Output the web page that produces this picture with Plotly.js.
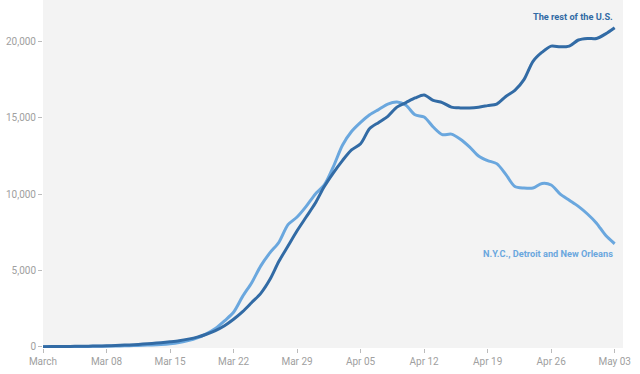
<!DOCTYPE html>
<html>
<head>
<meta charset="utf-8">
<script src="https://cdn.plot.ly/plotly-3.0.1.min.js"></script>
<style>html,body{margin:0;padding:0;background:#fff;}#chart{width:640px;height:374px;}</style>
</head>
<body>
<div id="chart"></div>
<script>
// Daily dates, Mar 1 – May 3, 2020
const startDate = "2020-03-01";
const restOfUS = [10,15,20,25,30,40,50,65,85,110,140,175,220,270,330,400,500,630,820,1060,1380,1800,2300,2900,3500,4400,5600,6600,7600,8500,9400,10500,11400,12200,12900,13300,14300,14700,15100,15700,16000,16300,16500,16150,16000,15700,15650,15650,15700,15800,15900,16400,16800,17500,18700,19300,19700,19650,19700,20100,20200,20200,20500,20900];
const nycDetroitNO = [5,8,10,14,18,24,30,40,50,65,80,100,120,150,200,280,400,580,850,1200,1700,2260,3300,4200,5300,6150,6850,8000,8500,9200,10000,10600,11800,13200,14100,14700,15200,15550,15900,16030,15820,15200,15050,14400,13900,13930,13600,13100,12500,12200,12000,11300,10500,10400,10400,10700,10600,10000,9600,9200,8700,8100,7300,6750];
const xTickVals = ["2020-03-01","2020-03-08","2020-03-15","2020-03-22","2020-03-29","2020-04-05","2020-04-12","2020-04-19","2020-04-26","2020-05-03"];
const xTickText = ["March","Mar 08","Mar 15","Mar 22","Mar 29","Apr 05","Apr 12","Apr 19","Apr 26","May 03"];
const yTickVals = [0,5000,10000,15000,20000];
const yTickText = ["0","5,000","10,000","15,000","20,000"];
const labels = ["The rest of the U.S.","N.Y.C., Detroit and New Orleans"];

function dates(n){
  const out=[]; const d0=new Date(startDate+"T00:00:00Z");
  for(let i=0;i<n;i++){const d=new Date(d0.getTime()+i*86400000);out.push(d.toISOString().slice(0,10));}
  return out;
}
const xs = dates(restOfUS.length);
const darkC = "#326ba5", lightC = "#6aa7de";
const traces = [
  {x:xs, y:nycDetroitNO, type:"scatter", mode:"lines", line:{color:lightC,width:3,shape:"spline",smoothing:0.8}, hoverinfo:"skip"},
  {x:xs, y:restOfUS, type:"scatter", mode:"lines", line:{color:darkC,width:3,shape:"spline",smoothing:0.8}, hoverinfo:"skip"}
];
const font = "Roboto, 'Liberation Sans', Arial, sans-serif";
const layout = {
  width:640, height:374,
  margin:{l:43,r:17,t:0,b:26},
  paper_bgcolor:"#ffffff", plot_bgcolor:"#f3f3f3",
  showlegend:false,
  font:{family:font,size:10,color:"#a0a0a0"},
  xaxis:{type:"date", range:["2020-03-01","2020-05-03 22:00"], tickvals:xTickVals, ticktext:xTickText,
    showgrid:false, zeroline:false, showline:false, ticks:"outside", ticklen:4, tickcolor:"#bbb",
    tickfont:{family:font,size:10,color:"#a0a0a0"}, fixedrange:true},
  yaxis:{range:[-80,22720], tickvals:yTickVals, ticktext:yTickText,
    showgrid:false, zeroline:false, showline:false, ticks:"outside", ticklen:4, tickcolor:"#bbb",
    tickfont:{family:font,size:10,color:"#a0a0a0"}, fixedrange:true},
  annotations:[
    {x:"2020-05-03", y:21650, xref:"x", yref:"y", text:"<b>"+labels[0]+"</b>", showarrow:false, xanchor:"right", yanchor:"middle", font:{family:font,size:9.2,color:darkC}},
    {x:"2020-05-03", y:6120, xref:"x", yref:"y", text:"<b>"+labels[1]+"</b>", showarrow:false, xanchor:"right", yanchor:"middle", font:{family:font,size:9.2,color:lightC}}
  ]
};
Plotly.newPlot("chart", traces, layout, {displayModeBar:false, staticPlot:true});
</script>
</body>
</html>
